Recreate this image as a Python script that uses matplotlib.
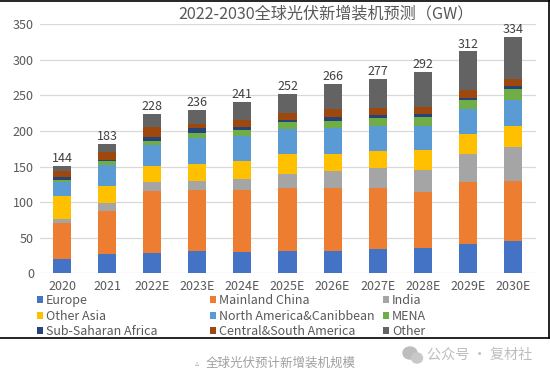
import numpy as np
from matplotlib import pyplot as plt
from matplotlib.lines import Line2D
from matplotlib.patches import Ellipse

plt.rcParams['font.family'] = ['Noto Sans CJK SC', 'DejaVu Sans']

W = 550
H = 377

years = ["2020", "2021", "2022E", "2023E", "2024E", "2025E", "2026E", "2027E", "2028E", "2029E", "2030E"]
totals = [144, 183, 228, 236, 241, 252, 266, 277, 292, 312, 334]

europe = [20, 27, 28.6, 31.4, 30, 31, 31, 33.8, 35, 40.8, 45]
china = [50.8, 60.6, 87.1, 85.8, 87.2, 88.6, 88.6, 85.8, 79, 87.2, 84.4]
india = [5.6, 11.3, 12.7, 12.7, 15.4, 19.7, 23.9, 28.1, 31, 39.8, 48.3]
other_asia = [32.3, 23.9, 22.5, 23.8, 25.4, 28.5, 24.3, 24.3, 28.4, 28.1, 29.3]
north_america = [19.7, 29, 29.5, 37, 35, 34.7, 36.6, 35, 33.6, 35.1, 36.7]
mena = [2.6, 6.2, 5.6, 6.6, 8.5, 10.3, 9.6, 11.4, 12.8, 12.7, 15.3]
ssa = [4.4, 1.3, 5.7, 6.7, 4.3, 2.8, 5.8, 4.2, 4.2, 2.8, 4]
csa = [8.5, 11.3, 14.1, 6, 9.8, 9.8, 11.2, 9.8, 9.9, 11.3, 10]
other = [7, 11.2, 18.2, 19.7, 25.4, 26.6, 35, 40.6, 49.1, 54.2, 59]

series = [
    ("Europe", europe, "#4472c4"),
    ("Mainland China", china, "#ed7d31"),
    ("India", india, "#a5a5a5"),
    ("Other Asia", other_asia, "#ffc000"),
    ("North America&Canibbean", north_america, "#5b9bd5"),
    ("MENA", mena, "#70ad47"),
    ("Sub-Saharan Africa", ssa, "#264478"),
    ("Central&South America", csa, "#9e480e"),
    ("Other", other, "#636363"),
]

TEXT = "#595959"


def fx(x):
    return x / W


def fy(y):
    return 1 - y / H


fig = plt.figure(figsize=(W / 100, H / 100), dpi=100)
ax = fig.add_axes([fx(39.5), fy(273.3), 496 / W, 249 / H])

x = np.arange(len(years))
bottom = np.zeros(len(years))
handles = []
for name, values, color in series:
    bars = ax.bar(x, values, 0.4, bottom=bottom, color=color, label=name, zorder=3)
    handles.append(bars)
    bottom += np.array(values)

for i, total in enumerate(totals):
    ax.annotate(str(total), (x[i], bottom[i]), xytext=(0, 0.5), textcoords="offset points",
                ha="center", va="bottom", fontsize=9, color="#404040")

ax.set_xlim(-0.5, len(years) - 0.5)
ax.set_ylim(0, 350)
ax.set_yticks(range(0, 351, 50))
ax.set_xticks(x, years)
ax.yaxis.grid(True, color="#d9d9d9", linewidth=0.9, zorder=0)
ax.set_axisbelow(True)
ax.tick_params(length=0, labelsize=9, labelcolor=TEXT, pad=4)
ax.tick_params(axis="x", pad=5)
for spine in ax.spines.values():
    spine.set_visible(False)

fig.text(fx(178), fy(14), "2022-2030全球光伏新增装机预测（GW）", ha="left", va="center",
         fontsize=11.6, color=TEXT)

# three separate legends so the columns land where they do in the original
columns = [(37, [0, 3, 6]), (210, [1, 4, 7]), (383, [2, 5, 8])]
for left, idx in columns:
    leg = fig.legend([handles[i] for i in idx], [series[i][0] for i in idx],
                     loc="upper left", bbox_to_anchor=(fx(left), fy(294)), frameon=False,
                     fontsize=9, labelcolor=TEXT, handlelength=0.48, handleheight=0.48,
                     handletextpad=0.25, labelspacing=0.2, borderpad=0, borderaxespad=0)

# black frame of the pasted chart
fig.add_artist(Line2D([0, 1], [fy(1), fy(1)], color="black", linewidth=1.2))
fig.add_artist(Line2D([0, fx(549)], [fy(338), fy(338)], color="black", linewidth=1.2))
fig.add_artist(Line2D([fx(549), fx(549)], [fy(1), fy(338)], color="black", linewidth=1.2))

fig.text(fx(197), fy(363), "▵", ha="center", va="center", fontsize=6, color="#aaaaaa")
fig.text(fx(206), fy(363), "全球光伏预计新增装机规模", ha="left", va="center", fontsize=9, color="#a0a0a0")
fig.text(fx(427), fy(355), "公众号 · 复材社", ha="left", va="center", fontsize=10.2, color="#bdbdbd")

# wechat logo next to the watermark
fig.add_artist(Ellipse((fx(410), fy(353)), 14 / W, 12 / H, color="#bdbdbd"))
fig.add_artist(Ellipse((fx(417), fy(358)), 11 / W, 10 / H, color="#c8c8c8"))

fig.savefig("out.png", dpi=100)
